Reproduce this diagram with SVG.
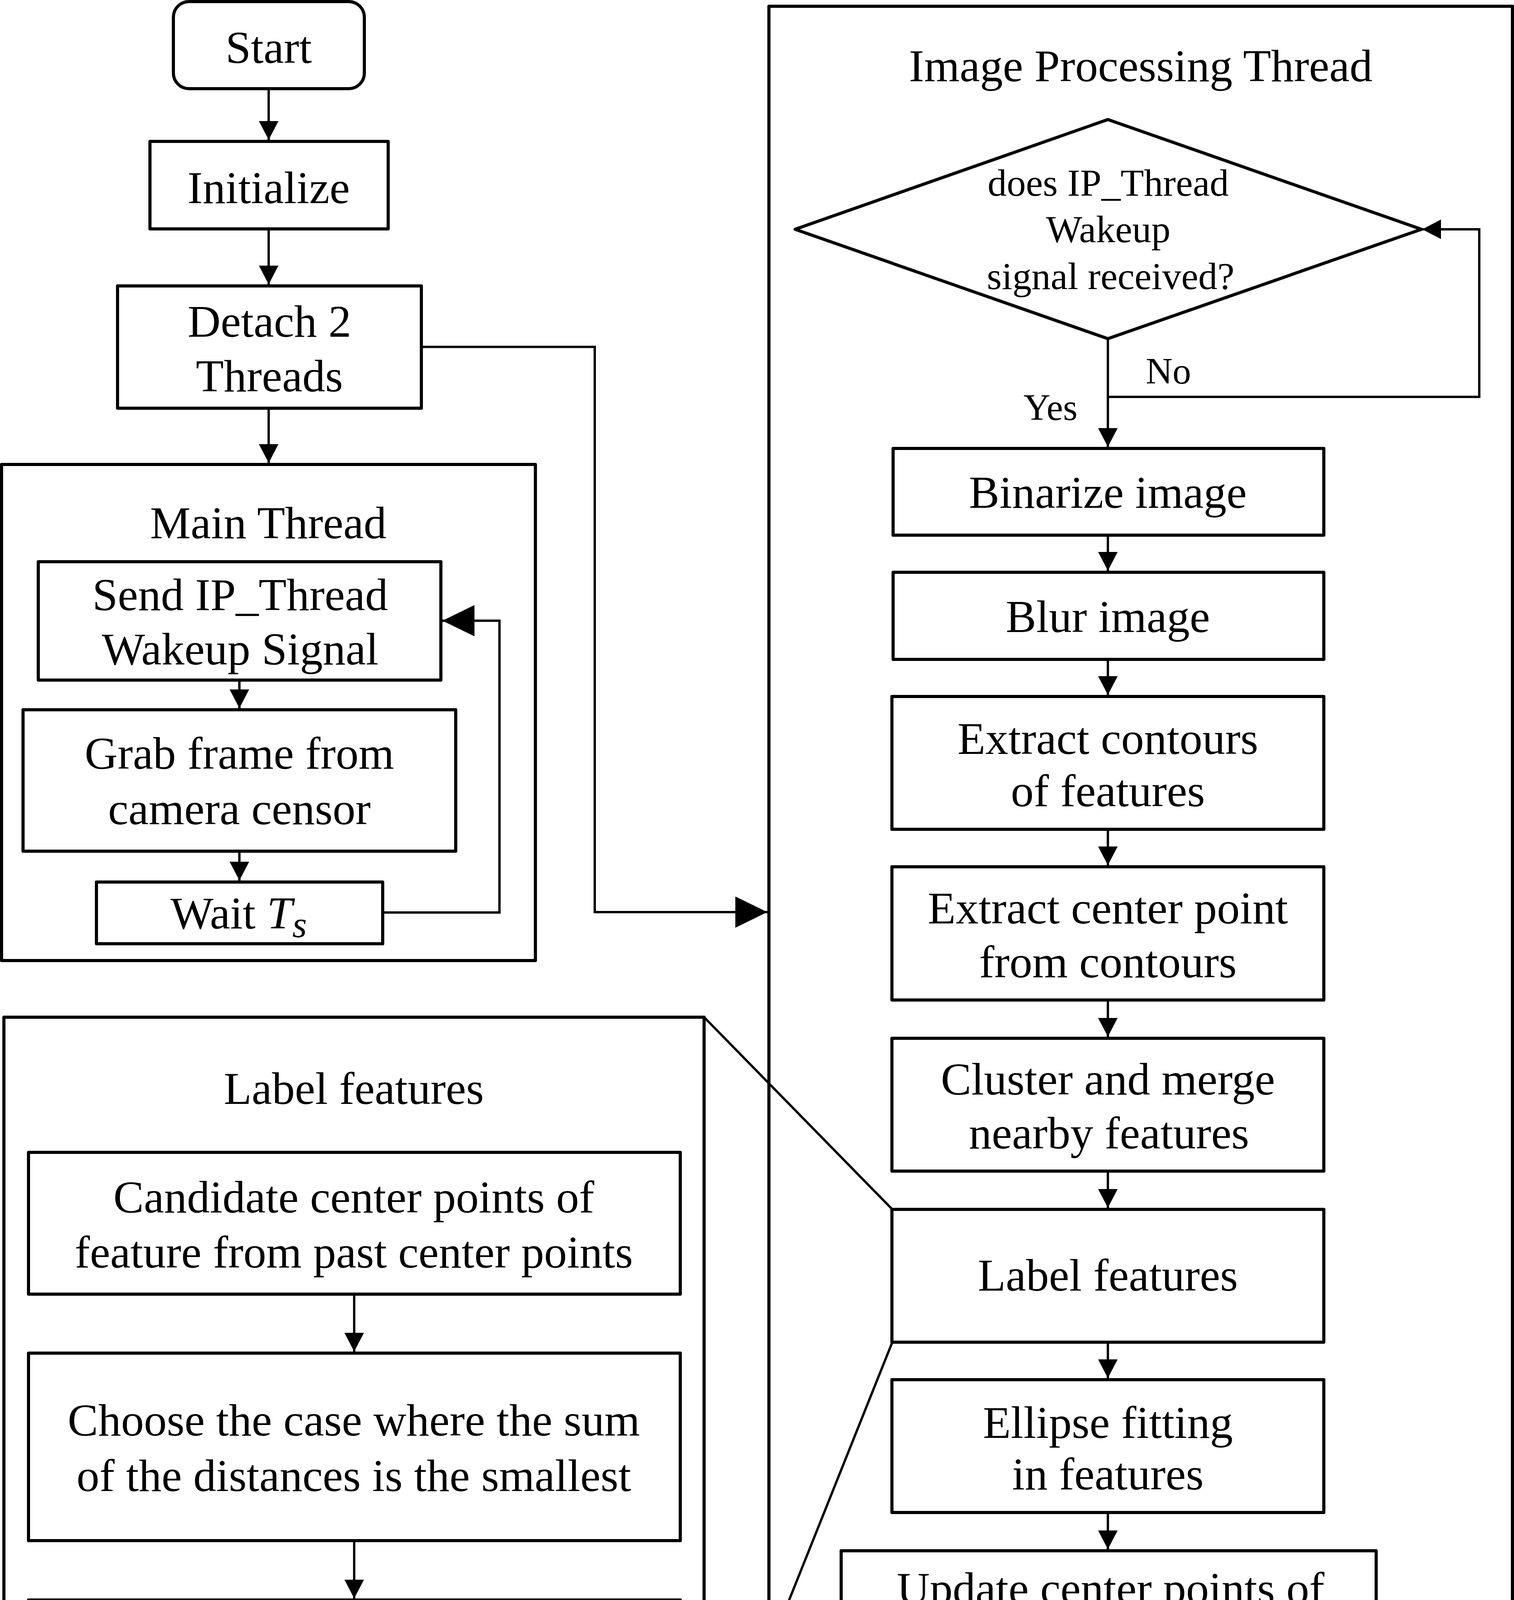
<svg xmlns="http://www.w3.org/2000/svg" width="3877" height="4657" viewBox="0 0 3877 4657">
<style>
.box{fill:#fff;stroke:#000;stroke-width:8;stroke-linejoin:round}
.frame{fill:none;stroke:#000;stroke-width:8;stroke-linejoin:round}
.t{font-family:"Liberation Serif","Times New Roman",serif;font-size:117px;fill:#000;text-anchor:middle}
.d{font-family:"Liberation Serif","Times New Roman",serif;font-size:98px;fill:#000;text-anchor:middle}
.yn{font-family:"Liberation Serif","Times New Roman",serif;font-size:95px;fill:#000}
.c{fill:none;stroke:#000;stroke-width:6;stroke-linejoin:miter}
.a{marker-end:url(#ah)}
.aL{marker-end:url(#ahL)}
</style>
<defs>
<marker id="ah" markerUnits="userSpaceOnUse" markerWidth="48" markerHeight="50" refX="48" refY="25" orient="auto" viewBox="0 0 48 50">
<path d="M0,0 L48,25 L0,50 z" fill="#000"/>
</marker>
<marker id="ahL" markerUnits="userSpaceOnUse" markerWidth="82" markerHeight="80" refX="82" refY="40" orient="auto" viewBox="0 0 82 80">
<path d="M0,0 L82,40 L0,80 z" fill="#000"/>
</marker>
</defs>
<rect width="3877" height="4657" fill="#fff"/>

<g id="ip-thread">
<rect class="frame" x="1969" y="16" width="1904" height="4637"/>
<text class="t" x="2921" y="208">Image Processing Thread</text>
</g>

<g id="main-thread">
<rect class="frame" x="4" y="1189" width="1367" height="1270"/>
<text class="t" x="687" y="1378">Main Thread</text>
</g>

<g id="label-detail">
<rect class="frame" x="10" y="2604" width="1793" height="2036"/>
<text class="t" x="906" y="2826">Label features</text>
</g>

<g id="connectors">
<path class="c a" d="M688,227 V358"/>
<path class="c a" d="M688,586 V728"/>
<path class="c a" d="M688,1045 V1185"/>
<path class="c a" d="M613,1741 V1813"/>
<path class="c a" d="M613,2179 V2254"/>
<path class="c aL" d="M980,2336 H1279 V1589 H1133"/>
<path class="c aL" d="M1079,888 H1523 V2335 H1965"/>
<path class="c a" d="M2837,867 V1144"/>
<path class="c a" d="M2837,1016 H3788 V587 H3642"/>
<path class="c a" d="M2837,1370 V1461"/>
<path class="c a" d="M2837,1688 V1779"/>
<path class="c a" d="M2837,2123 V2215"/>
<path class="c a" d="M2837,2560 V2654"/>
<path class="c a" d="M2837,2998 V3092"/>
<path class="c a" d="M2837,3436 V3528"/>
<path class="c a" d="M2837,3872 V3966"/>
<path class="c a" d="M2837,4294 V4388"/>
<path class="c a" d="M907,3313 V3460"/>
<path class="c a" d="M907,3944 V4092"/>
<path class="c" d="M1803,2604 L2285,3096"/>
<path class="c" d="M1803,4640 L2285,3436"/>
</g>

<g id="start">
<rect class="box" x="444" y="4" width="489" height="223" rx="40" ry="40"/>
<text class="t" x="688" y="161">Start</text>
</g>

<g id="initialize">
<rect class="box" x="384" y="362" width="610" height="224"/>
<text class="t" x="688" y="520">Initialize</text>
</g>

<g id="detach">
<rect class="box" x="301" y="732" width="778" height="313"/>
<text class="t" x="690" y="862">Detach 2</text>
<text class="t" x="690" y="1002">Threads</text>
</g>

<g id="send">
<rect class="box" x="98" y="1438" width="1031" height="303"/>
<text class="t" x="615" y="1562">Send IP_Thread</text>
<text class="t" x="615" y="1701">Wakeup Signal</text>
</g>

<g id="grab">
<rect class="box" x="59" y="1817" width="1108" height="362"/>
<text class="t" x="613" y="1968">Grab frame from</text>
<text class="t" x="613" y="2110">camera censor</text>
</g>

<g id="wait">
<rect class="box" x="247" y="2258" width="733" height="158"/>
<text class="t" x="611" y="2377">Wait <tspan font-style="italic">T</tspan><tspan font-style="italic" font-size="95" dy="22">s</tspan></text>
</g>

<g id="decision">
<polygon class="box" points="2837,306 3640,587 2837,867 2036,587"/>
<text class="d" x="2838" y="501">does IP_Thread</text>
<text class="d" x="2838" y="620">Wakeup</text>
<text class="d" x="2844" y="740">signal received?</text>
<text class="yn" x="2934" y="982">No</text>
<text class="yn" x="2621" y="1075">Yes</text>
</g>

<g id="binarize">
<rect class="box" x="2287" y="1148" width="1103" height="222"/>
<text class="t" x="2837" y="1300">Binarize image</text>
</g>

<g id="blur">
<rect class="box" x="2287" y="1465" width="1103" height="223"/>
<text class="t" x="2837" y="1618">Blur image</text>
</g>

<g id="contours">
<rect class="box" x="2284" y="1783" width="1106" height="340"/>
<text class="t" x="2837" y="1930">Extract contours</text>
<text class="t" x="2837" y="2064">of features</text>
</g>

<g id="center">
<rect class="box" x="2284" y="2219" width="1106" height="341"/>
<text class="t" x="2837" y="2364">Extract center point</text>
<text class="t" x="2837" y="2502">from contours</text>
</g>

<g id="cluster">
<rect class="box" x="2284" y="2658" width="1106" height="340"/>
<text class="t" x="2837" y="2802">Cluster and merge</text>
<text class="t" x="2840" y="2940">nearby features</text>
</g>

<g id="label">
<rect class="box" x="2284" y="3096" width="1106" height="340"/>
<text class="t" x="2837" y="3304">Label features</text>
</g>

<g id="ellipse">
<rect class="box" x="2284" y="3532" width="1106" height="340"/>
<text class="t" x="2837" y="3681">Ellipse fitting</text>
<text class="t" x="2837" y="3813">in features</text>
</g>

<g id="update">
<rect class="box" x="2154" y="3970" width="1370" height="324"/>
<text class="t" x="2844" y="4106">Update center points of</text>
<text class="t" x="2837" y="4242">labelled features</text>
</g>

<g id="sleep">
<rect class="box" x="2339" y="4392" width="997" height="204"/>
<text class="t" x="2837" y="4540">Thread sleep</text>
</g>

<g id="candidate">
<rect class="box" x="73" y="2950" width="1669" height="363"/>
<text class="t" x="906" y="3104">Candidate center points of</text>
<text class="t" x="906" y="3245">feature from past center points</text>
</g>

<g id="choose">
<rect class="box" x="73" y="3464" width="1669" height="480"/>
<text class="t" x="906" y="3675">Choose the case where the sum</text>
<text class="t" x="906" y="3817">of the distances is the smallest</text>
</g>

<g id="label-selected">
<rect class="box" x="73" y="4096" width="1669" height="480"/>
<text class="t" x="906" y="4311">Label the selected features with</text>
<text class="t" x="906" y="4452">the same ID as in the past.</text>
</g>
</svg>
